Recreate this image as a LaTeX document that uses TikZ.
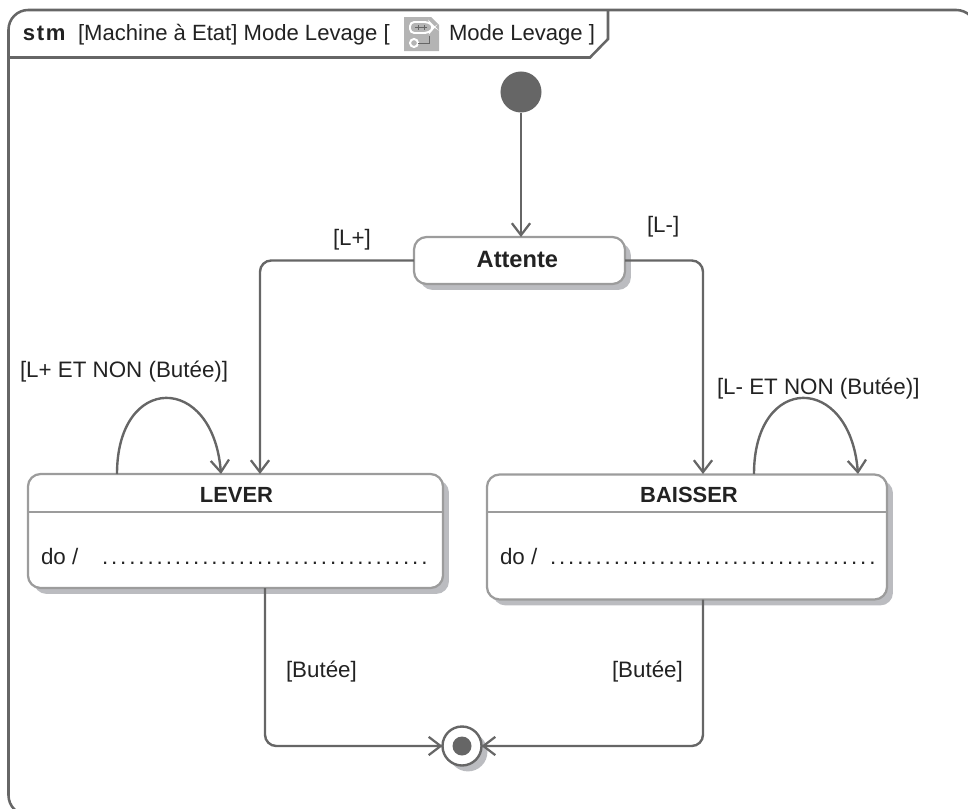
\documentclass[tikz,border=0pt]{standalone}
\usepackage{fontspec}
\setmainfont{Liberation Sans}
\newfontfamily\dotsfont[LetterSpace=13]{Liberation Sans}
\usetikzlibrary{arrows.meta,shadows}
\definecolor{linegray}{HTML}{666666}
\definecolor{boxgray}{HTML}{9C9C9C}
\definecolor{shadegray}{HTML}{BBBCC0}
\definecolor{inkgray}{HTML}{222222}
\definecolor{icongray}{HTML}{B4B4B4}

\begin{document}
\begin{tikzpicture}[x=0.025cm,y=-0.025cm]
\tikzstyle{every node} = [inner sep=0pt,outer sep=0pt,text=inkgray]
\tikzstyle{guardtext} = [anchor=base west,font=\fontsize{15.9}{18}\selectfont]
\tikzstyle{frametext} = [anchor=base west,font=\fontsize{15.7}{18}\selectfont]
\tikzstyle{statetext} = [anchor=center,font=\fontsize{15.6}{18}\selectfont\bfseries]
\tikzstyle{statebox} = [draw=boxgray,line width=1.6pt,rounded corners=9pt,fill=white,general shadow={fill=shadegray,shadow xshift=4.2pt,shadow yshift=-4.2pt}]
\tikzstyle{link} = [draw=linegray,line width=1.7pt,rounded corners=8pt]
\tikzstyle{flow} = [link,-{Straight Barb[length=8.5pt,width=13pt,line width=1.6pt]}]
\clip (0,0) rectangle (968,809);
\useasboundingbox (0,0) rectangle (968,809);

	\draw[linegray,line width=1.8pt,rounded corners=14pt] (8.5,815) -- (8.5,10) -- (976,10) -- (976,815) -- cycle;
	\draw[linegray,line width=1.8pt] (8.5,57.5) -- (590,57.5) -- (608,39) -- (608,10);

	\draw[fill=icongray,draw=none] (404,17) -- (431,17) -- (439,25) -- (439,51) -- (404,51) -- cycle;
	\draw[white,line width=1.4pt,rounded corners=3pt] (410,22) -- (429,22) -- (434,27) -- (429,33) -- (410,33) -- cycle;
	\draw[linegray,line width=.7pt] (415,27.5) -- (427,27.5) (418,25) -- (418,30) (424,25) -- (424,30);
	\draw[white,line width=1.4pt] (414,43) circle (4);
	\draw[linegray,line width=.7pt] (418,43) -- (429,43) -- (429,36);

\path (23,40.5) node[frametext] (stm) {\textbf{s\kern1.2pt t\kern1.2pt m}}
		(78,40.5) node[frametext] (frametitle) {[Machine à Etat] Mode Levage [}
		(449,40.5) node[frametext] (framename) {Mode Levage ]}
		(521,92) node[circle,fill=linegray,minimum size=1.025cm] (start) {}
		(519.5,260.5) node[statebox,minimum width=5.275cm,minimum height=1.175cm,statetext,font=\fontsize{16.8}{18}\selectfont\bfseries] (attente) {\hspace{-3pt}\raisebox{1.2pt}{Attente}}
		(235.5,531) node[statebox,minimum width=10.375cm,minimum height=2.85cm] (lever) {}
		(687,537) node[statebox,minimum width=10cm,minimum height=3.125cm] (baisser) {}
		(236.5,495) node[statetext] (levername) {LEVER}
		(689,495) node[statetext] (baissername) {BAISSER}
		(41,564.5) node[guardtext] (leverdo) {do /}
		(102,564.5) node[guardtext] (leverdots) {\dotsfont....................................}
		(500,564) node[guardtext] (baisserdo) {do /}
		(550,564) node[guardtext] (baisserdots) {\dotsfont....................................}
		(462,746) node[circle,draw=linegray,line width=1.7pt,fill=white,minimum size=.975cm,general shadow={fill=shadegray,shadow xshift=4.2pt,shadow yshift=-4.2pt}] (final) {}
		(462,746) node[circle,fill=linegray,minimum size=.475cm] (finaldot) {}
		(333,245) node[guardtext] (lplus) {[L+]}
		(647,232) node[guardtext] (lminus) {[L-]}
		(20,377) node[guardtext] (lplusnon) {[L+ ET NON (Butée)]}
		(717,394) node[guardtext] (lminusnon) {[L- ET NON (Butée)]}
		(286,677) node[guardtext] (leverbutee) {[Butée]}
		(612,677) node[guardtext] (baisserbutee) {[Butée]};

\coordinate (leverin) at (260,474);
\coordinate (baisserin) at (703,474);
\coordinate (leverloopa) at (117,474);
\coordinate (leverloopb) at (221,474);
\coordinate (baisserloopa) at (754,474);
\coordinate (baisserloopb) at (858,474);
\coordinate (leverout) at (265,588);
\coordinate (baisserout) at (703,599.5);
\coordinate (leverrule) at (lever.west |- 0,512);
\coordinate (baisserrule) at (baisser.west |- 0,512);

	\draw[boxgray,line width=1.6pt] (leverrule) -- ++(10.375cm,0);
	\draw[boxgray,line width=1.6pt] (baisserrule) -- ++(10cm,0);

	\draw[flow] (start) -- (start |- attente.north);
	\draw[flow] (attente.west) -| (leverin);
	\draw[flow] (attente.east) -| (baisserin);
	\draw[flow] (leverloopa) .. controls (117,373) and (213,373) .. (leverloopb);
	\draw[flow] (baisserloopa) .. controls (754,373) and (850,373) .. (baisserloopb);
	\draw[flow] (leverout) |- (final.west);
	\draw[flow] (baisserout) |- (final.east);
\end{tikzpicture}
\end{document}
